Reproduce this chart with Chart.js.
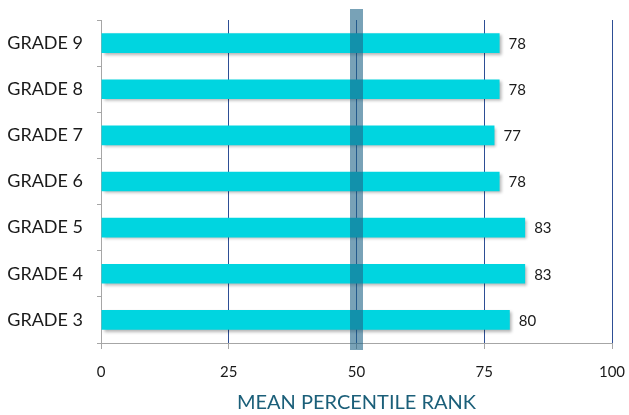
<!DOCTYPE html>
<html>
<head>
<meta charset="utf-8">
<script src="https://cdn.jsdelivr.net/npm/chart.js@4"></script>
<style>
  html, body { margin: 0; padding: 0; background: #fff; }
  #wrap { width: 629px; height: 415px; }
</style>
</head>
<body>
<div id="wrap"><canvas id="grados"></canvas></div>
<script>
const grades = ["GRADE 9", "GRADE 8", "GRADE 7", "GRADE 6", "GRADE 5", "GRADE 4", "GRADE 3"];
const meanRank = [78, 78, 77, 78, 83, 83, 80];
const xTicks = [0, 25, 50, 75, 100];
const referenceLine = 50;

const FONT = "Lato, 'Open Sans', sans-serif";

// sombra en las barras
const barShadow = {
  id: "barShadow",
  beforeDatasetDraw(chart) {
    const ctx = chart.ctx;
    ctx.save();
    ctx.shadowColor = "rgba(0,0,0,0.3)";
    ctx.shadowBlur = 3;
    ctx.shadowOffsetX = 2;
    ctx.shadowOffsetY = 2;
  },
  afterDatasetDraw(chart) {
    chart.ctx.restore();
  }
};

// franja en 50 y etiquetas de valor
const extras = {
  id: "extras",
  afterDatasetsDraw(chart) {
    const ctx = chart.ctx;
    const x = chart.scales.x;
    const area = chart.chartArea;
    const px = x.getPixelForValue(referenceLine);
    ctx.save();
    ctx.fillStyle = "rgba(30,100,135,0.6)";
    ctx.fillRect(px - 6.5, area.top - 11, 13, area.bottom - area.top + 18);

    ctx.fillStyle = "#1a1a1a";
    ctx.font = "15px " + FONT;
    ctx.textAlign = "left";
    ctx.textBaseline = "middle";
    chart.getDatasetMeta(0).data.forEach((bar, i) => {
      ctx.fillText(meanRank[i], bar.x + 9, bar.y + 1);
    });
    ctx.restore();
  }
};

new Chart(document.getElementById("grados"), {
  type: "bar",
  data: {
    labels: grades,
    datasets: [{
      data: meanRank,
      backgroundColor: "#00d5e0",
      borderWidth: 0,
      categoryPercentage: 0.82,
      barPercentage: 0.52
    }]
  },
  options: {
    indexAxis: "y",
    responsive: true,
    maintainAspectRatio: false,
    animation: false,
    layout: { padding: { left: 0, right: 17, top: 20, bottom: 0 } },
    plugins: {
      legend: { display: false },
      tooltip: { enabled: false }
    },
    scales: {
      x: {
        min: 0,
        max: 100,
        afterBuildTicks: (scale) => {
          scale.ticks = xTicks.map((v) => ({ value: v }));
        },
        afterFit: (scale) => {
          scale.height = 72;
          scale.paddingLeft = 0;
          scale.paddingRight = 0;
        },
        border: { color: "#a6a6a6", width: 1 },
        grid: {
          color: (c) => (c.tick && c.tick.value === 0 ? "#a6a6a6" : "#2d4e95"),
          tickColor: "#a6a6a6",
          tickLength: 6,
          lineWidth: 1
        },
        ticks: {
          color: "#1a1a1a",
          font: { family: FONT, size: 15 },
          padding: 14
        },
        title: {
          display: true,
          text: "MEAN PERCENTILE RANK",
          color: "#1b5f79",
          font: { family: FONT, size: 20 },
          padding: { top: 5, bottom: 0 }
        }
      },
      y: {
        afterFit: (scale) => {
          scale.width = 101;
          scale.paddingTop = 0;
          scale.paddingBottom = 0;
        },
        border: { color: "#a6a6a6", width: 1 },
        grid: {
          drawOnChartArea: false,
          tickColor: "#a6a6a6",
          tickLength: 4,
          offset: true
        },
        ticks: {
          color: "#1a1a1a",
          font: { family: FONT, size: 18 },
          padding: 14
        }
      }
    }
  },
  plugins: [barShadow, extras]
});
</script>
</body>
</html>
